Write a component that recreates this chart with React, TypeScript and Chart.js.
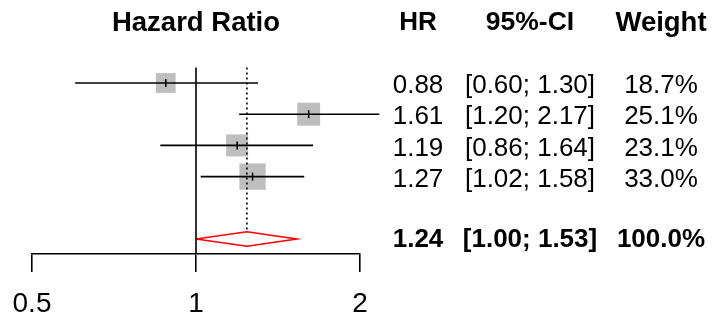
import React, { useEffect, useRef } from 'react';
import { Chart, registerables } from 'chart.js';

Chart.register(...registerables);

// ---- data ----
const studyRows = [1, 2, 3, 4];
const hrValues = [0.88, 1.61, 1.19, 1.27];
const ciLower = [0.6, 1.2, 0.86, 1.02];
const ciUpper = [1.3, 2.17, 1.64, 1.58];
const weights = [18.7, 25.1, 23.1, 33.0];
const hrLabels = ['0.88', '1.61', '1.19', '1.27'];
const ciLabels = ['[0.60; 1.30]', '[1.20; 2.17]', '[0.86; 1.64]', '[1.02; 1.58]'];
const weightLabels = ['18.7%', '25.1%', '23.1%', '33.0%'];
const summaryRow = 6;
const summaryHR = 1.24;
const summaryLower = 1.0;
const summaryUpper = 1.53;
const summaryLabels = ['1.24', '[1.00; 1.53]', '100.0%'];
const headerLabels = ['HR', '95%-CI', 'Weight'];
const plotTitle = 'Hazard Ratio';
const axisTicks = [0.5, 1, 2];
const nullValue = 1;

// ---- layout / style constants ----
const W = 723;
const H = 320;
const FAMILY = '"Liberation Sans", Arial, Helvetica, sans-serif';
const FS = 26;
const HEADER_FS = [26, 26.5, 27.5];
const TITLE_FS = 27.5;
const TICK_FS = 28;
const Y_MIN = -1.66;
const Y_MAX = 6.481;
const HEADER_ROW = -0.92;
const LINE_TOP = 0.5;
const DIAMOND_HALF = 0.23;
const COL_X = [418, 530, 661];
const TEXT_SHIFT = 3;

const textPlugin = {
  id: 'forestText',
  afterDraw(chart: any) {
    const ctx = chart.ctx;
    const ys = chart.scales.y;
    const area = chart.chartArea;
    ctx.save();
    ctx.fillStyle = '#000';
    ctx.textAlign = 'center';
    ctx.textBaseline = 'middle';
    const hy = ys.getPixelForValue(HEADER_ROW);
    ctx.font = `bold ${TITLE_FS}px ${FAMILY}`;
    ctx.fillText(plotTitle, (area.left + area.right) / 2, hy);
    headerLabels.forEach((t, i) => {
      ctx.font = `bold ${HEADER_FS[i]}px ${FAMILY}`;
      ctx.fillText(t, COL_X[i], hy);
    });
    ctx.font = `${FS}px ${FAMILY}`;
    studyRows.forEach((r, i) => {
      const py = ys.getPixelForValue(r) + TEXT_SHIFT;
      ctx.fillText(hrLabels[i], COL_X[0], py);
      ctx.fillText(ciLabels[i], COL_X[1], py);
      ctx.fillText(weightLabels[i], COL_X[2], py);
    });
    ctx.font = `bold ${FS}px ${FAMILY}`;
    const sy = ys.getPixelForValue(summaryRow) + 1;
    summaryLabels.forEach((t, i) => ctx.fillText(t, COL_X[i], sy));
    ctx.restore();
  },
};

export default function App() {
  const ref = useRef<HTMLCanvasElement | null>(null);
  useEffect(() => {
    if (!ref.current) return;
    const ciDatasets = studyRows.map((r, i) => ({
      type: 'line' as const,
      data: [
        { x: ciLower[i], y: r },
        { x: ciUpper[i], y: r },
      ],
      borderColor: '#000',
      borderWidth: 1.6,
      pointRadius: 0,
      fill: false,
      clip: false as any,
      order: 2,
    }));
    const chart = new Chart(ref.current, {
      type: 'scatter',
      data: {
        datasets: [
          // estimate tick marks (top)
          {
            type: 'scatter',
            data: studyRows.map((r, i) => ({ x: hrValues[i], y: r })),
            pointStyle: 'line',
            rotation: 90,
            pointRadius: 4,
            borderColor: '#000',
            borderWidth: 1.6,
            backgroundColor: '#000',
            order: 1,
          } as any,
          ...ciDatasets,
          // null effect line
          {
            type: 'line',
            data: [
              { x: nullValue, y: LINE_TOP },
              { x: nullValue, y: Y_MAX },
            ],
            borderColor: '#000',
            borderWidth: 1.6,
            pointRadius: 0,
            order: 2,
          } as any,
          // pooled estimate dotted line
          {
            type: 'line',
            data: [
              { x: summaryHR, y: LINE_TOP },
              { x: summaryHR, y: summaryRow - DIAMOND_HALF },
            ],
            borderColor: '#000',
            borderWidth: 1.6,
            borderDash: [2, 3],
            pointRadius: 0,
            order: 2,
          } as any,
          // diamond
          {
            type: 'line',
            data: [
              { x: summaryLower, y: summaryRow },
              { x: summaryHR, y: summaryRow - DIAMOND_HALF },
              { x: summaryUpper, y: summaryRow },
              { x: summaryHR, y: summaryRow + DIAMOND_HALF },
              { x: summaryLower, y: summaryRow },
            ],
            borderColor: '#ff0000',
            borderWidth: 1.6,
            pointRadius: 0,
            fill: false,
            tension: 0,
            order: 2,
          } as any,
          // squares (bottom)
          {
            type: 'scatter',
            data: studyRows.map((r, i) => ({ x: hrValues[i], y: r })),
            pointStyle: 'rect',
            pointRadius: weights.map((w) => (4.58 * Math.sqrt(w)) / Math.SQRT2),
            backgroundColor: '#bebebe',
            borderWidth: 0,
            borderColor: '#bebebe',
            clip: false,
            order: 3,
          } as any,
        ],
      },
      options: {
        responsive: false,
        animation: false,
        events: [],
        layout: { autoPadding: false, padding: { left: 32, right: W - 360, top: 0, bottom: 0 } },
        plugins: { legend: { display: false }, tooltip: { enabled: false } },
        scales: {
          x: {
            type: 'logarithmic',
            min: 0.5,
            max: 2,
            afterBuildTicks: (scale: any) => {
              scale.ticks = axisTicks.map((v) => ({ value: v }));
            },
            afterFit: (scale: any) => {
              scale.height = 66;
            },
            grid: {
              display: true,
              drawOnChartArea: false,
              drawTicks: true,
              tickLength: 18,
              color: '#000',
              lineWidth: 1.6,
            },
            border: { display: true, color: '#000', width: 1.6 },
            ticks: {
              autoSkip: false,
              maxRotation: 0,
              padding: 11,
              color: '#000',
              font: { family: FAMILY, size: TICK_FS, lineHeight: 1.5 },
              callback: (v: any) => String(v),
            },
          },
          y: {
            type: 'linear',
            display: false,
            reverse: true,
            min: Y_MIN,
            max: Y_MAX,
          },
        },
      },
      plugins: [textPlugin],
    } as any);
    return () => chart.destroy();
  }, []);
  return (
    <canvas
      ref={ref}
      width={W}
      height={H}
      style={{ position: 'fixed', left: 0, top: 0, width: W, height: H, background: '#fff' }}
    />
  );
}
